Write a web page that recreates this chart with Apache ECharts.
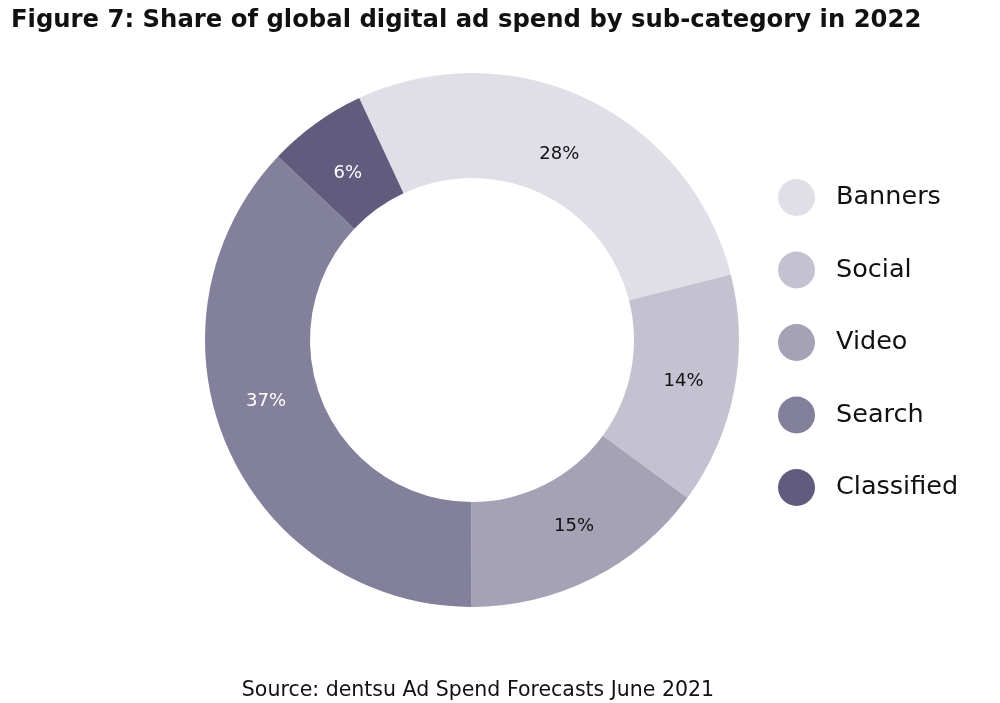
<!DOCTYPE html>
<html>
<head>
<meta charset="utf-8">
<script src="https://cdn.jsdelivr.net/npm/echarts@6/dist/echarts.min.js"></script>
<style>html,body{margin:0;padding:0;background:#fff}#c{width:1000px;height:703px}</style>
</head>
<body>
<div id="c"></div>
<script>
const categories = ["Banners", "Social", "Video", "Search", "Classified"];
const shares = [28, 14, 15, 37, 6];
const colors = ["#e0dfe7", "#c4c2d1", "#a4a2b4", "#82809a", "#615c7e"];
const labelColors = ["#111111", "#111111", "#111111", "#ffffff", "#ffffff"];
const title = "Figure 7: Share of global digital ad spend by sub-category in 2022";
const source = "Source: dentsu Ad Spend Forecasts June 2021";

const FONT = 'DejaVu Sans';
const labelShift = [[-6, 11], [-2, 0], [4, -8], [-6, -24], [3, 10]];

const chart = echarts.init(document.getElementById('c'), null, {renderer: 'canvas'});
chart.setOption({
  animation: false,
  title: [
    {text: title, left: 6, top: 4, textStyle: {fontFamily: FONT, fontWeight: 'bold', fontSize: 24.3, color: '#111111'}},
    {text: source, left: 473, top: 675, textAlign: 'center', textStyle: {fontFamily: FONT, fontWeight: 'normal', fontSize: 20.5, color: '#111111'}}
  ],
  legend: {
    orient: 'vertical', left: 773, top: 174,
    icon: 'circle', itemWidth: 37, itemHeight: 37, itemGap: 35.5,
    textStyle: {fontFamily: FONT, fontSize: 25.5, color: '#111111', padding: [0, 0, 0, 16]},
    data: categories
  },
  series: [{
    type: 'pie',
    center: [472, 340],
    radius: [162, 267],
    startAngle: 115,
    clockwise: true,
    avoidLabelOverlap: false,
    label: {position: 'inside', fontFamily: FONT, fontSize: 18, formatter: '{c}%'},
    labelLine: {show: false},
    emphasis: {disabled: true},
    data: categories.map((n, i) => ({
      name: n, value: shares[i],
      itemStyle: {color: colors[i]},
      label: {color: labelColors[i], offset: labelShift[i]}
    }))
  }]
});
</script>
</body>
</html>
